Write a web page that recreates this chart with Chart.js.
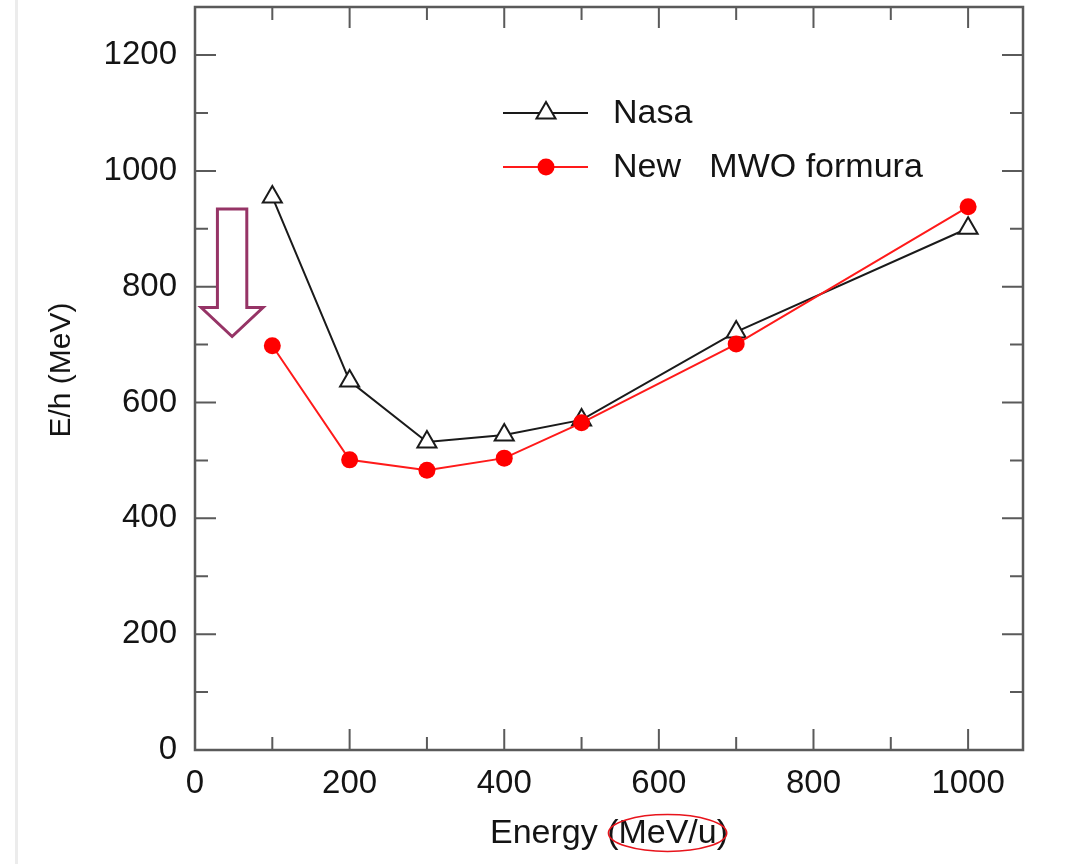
<!DOCTYPE html>
<html>
<head>
<meta charset="utf-8">
<script src="https://cdn.jsdelivr.net/npm/chart.js@4/dist/chart.umd.min.js"></script>
<style>
  html, body { margin: 0; padding: 0; background: #fff; }
  #wrap { width: 1072px; height: 864px; position: relative; }
</style>
</head>
<body>
<div id="wrap"><canvas id="c"></canvas></div>
<script>
// ---- data ----
const energies = [100, 200, 300, 400, 500, 700, 1000];
const nasaValues = [955, 637, 532, 544, 570, 722, 901];
const mwoValues = [698, 501, 483, 504, 565, 701, 938];
const xTickLabels = [0, 200, 400, 600, 800, 1000];
const yTickLabels = [0, 200, 400, 600, 800, 1000, 1200];
const xMinorTicks = [100, 300, 500, 700, 900];
const yMinorTicks = [100, 300, 500, 700, 900, 1100];
const seriesNames = ['Nasa', 'New   MWO formura'];
const yTitle = 'E/h (MeV)';

const FONT = '"Liberation Sans", Arial, Helvetica, sans-serif';
const frameColor = '#5a5a5a';
const zeroPad = () => ({ left: 0, top: 0, right: 0, bottom: 0 });

const decor = {
  id: 'decor',
  beforeDraw(chart) {
    const ctx = chart.ctx;
    ctx.save();
    ctx.fillStyle = '#ececec';
    ctx.fillRect(15, 0, 3, chart.height);
    ctx.restore();
  },
  afterDraw(chart) {
    const ctx = chart.ctx;
    const a = chart.chartArea;
    const xs = chart.scales.x, ys = chart.scales.y;
    ctx.save();
    // frame
    ctx.strokeStyle = frameColor;
    ctx.lineWidth = 2.5;
    ctx.strokeRect(a.left, a.top, a.right - a.left, a.bottom - a.top);
    // ticks inward
    ctx.lineWidth = 2;
    const major = 21, minor = 13;
    function xt(v, len) {
      const px = xs.getPixelForValue(v);
      ctx.beginPath();
      ctx.moveTo(px, a.bottom); ctx.lineTo(px, a.bottom - len);
      ctx.moveTo(px, a.top); ctx.lineTo(px, a.top + len);
      ctx.stroke();
    }
    function yt(v, len) {
      const py = ys.getPixelForValue(v);
      ctx.beginPath();
      ctx.moveTo(a.left, py); ctx.lineTo(a.left + len, py);
      ctx.moveTo(a.right, py); ctx.lineTo(a.right - len, py);
      ctx.stroke();
    }
    xTickLabels.forEach(v => xt(v, major));
    xMinorTicks.forEach(v => xt(v, minor));
    yTickLabels.forEach(v => yt(v, major));
    yMinorTicks.forEach(v => yt(v, minor));

    // y title
    ctx.save();
    ctx.translate(62, 370);
    ctx.rotate(-Math.PI / 2);
    ctx.font = '30px ' + FONT;
    ctx.fillStyle = '#141414';
    ctx.textAlign = 'center';
    ctx.textBaseline = 'middle';
    ctx.fillText(yTitle, 0, 0);
    ctx.restore();

    // legend
    const ds = chart.data.datasets;
    const rows = [113, 167];
    ctx.font = '34px ' + FONT;
    ctx.textBaseline = 'middle';
    ctx.textAlign = 'left';
    ds.forEach((d, i) => {
      const y = rows[i];
      ctx.strokeStyle = d.borderColor;
      ctx.lineWidth = d.borderWidth;
      ctx.beginPath(); ctx.moveTo(503, y); ctx.lineTo(588, y); ctx.stroke();
      ctx.fillStyle = d.pointBackgroundColor;
      ctx.strokeStyle = d.pointBorderColor;
      ctx.lineWidth = d.pointBorderWidth;
      ctx.beginPath();
      if (d.pointStyle === 'triangle') {
        const r = d.pointRadius;
        ctx.moveTo(546, y - r);
        ctx.lineTo(546 + r * Math.sin(2 * Math.PI / 3), y + r / 2);
        ctx.lineTo(546 - r * Math.sin(2 * Math.PI / 3), y + r / 2);
        ctx.closePath();
        ctx.fill(); ctx.stroke();
      } else {
        ctx.arc(546, y, d.pointRadius, 0, Math.PI * 2);
        ctx.fill();
      }
      ctx.fillStyle = '#141414';
      ctx.fillText(seriesNames[i], 613, y + 1);
    });

    // purple arrow annotation (in data coordinates)
    const X = v => xs.getPixelForValue(v), Y = v => ys.getPixelForValue(v);
    ctx.strokeStyle = '#963466';
    ctx.lineWidth = 3;
    ctx.lineJoin = 'miter';
    ctx.beginPath();
    ctx.moveTo(X(29), Y(934));
    ctx.lineTo(X(67), Y(934));
    ctx.lineTo(X(67), Y(764));
    ctx.lineTo(X(88), Y(764));
    ctx.lineTo(X(48), Y(714));
    ctx.lineTo(X(8), Y(764));
    ctx.lineTo(X(29), Y(764));
    ctx.closePath();
    ctx.stroke();

    // red ellipse around "MeV/u" in the x title
    ctx.font = '34px ' + FONT;
    const full = 'Energy (MeV/u)';
    const wFull = ctx.measureText(full).width;
    const wPre = ctx.measureText('Energy (').width;
    const wMid = ctx.measureText('MeV/u').width;
    const cx = (a.left + a.right) / 2 - wFull / 2 + wPre + wMid / 2;
    ctx.strokeStyle = '#e8141c';
    ctx.lineWidth = 1.6;
    ctx.beginPath();
    ctx.ellipse(cx, 833, wMid / 2 + 10, 18.5, 0, 0, Math.PI * 2);
    ctx.stroke();
    ctx.restore();
  }
};

new Chart(document.getElementById('c'), {
  type: 'line',
  data: {
    datasets: [
      {
        label: seriesNames[0],
        data: energies.map((e, i) => ({ x: e, y: nasaValues[i] })),
        borderColor: '#1a1a1a',
        borderWidth: 2,
        pointStyle: 'triangle',
        pointRadius: 11,
        pointBorderWidth: 2,
        pointBackgroundColor: '#ffffff',
        pointBorderColor: '#1a1a1a',
        tension: 0,
        clip: false,
        order: 2
      },
      {
        label: seriesNames[1],
        data: energies.map((e, i) => ({ x: e, y: mwoValues[i] })),
        borderColor: '#ff1a1a',
        borderWidth: 2,
        pointStyle: 'circle',
        pointRadius: 8.5,
        pointBorderWidth: 0,
        pointBackgroundColor: '#ff0000',
        pointBorderColor: '#ff0000',
        tension: 0,
        clip: false,
        order: 1
      }
    ]
  },
  options: {
    responsive: true,
    maintainAspectRatio: false,
    animation: false,
    events: [],
    layout: { autoPadding: false, padding: { top: 7, right: 49, bottom: 0, left: 0 } },
    plugins: { legend: { display: false }, tooltip: { enabled: false } },
    scales: {
      x: {
        type: 'linear',
        min: 0, max: 1071,
        afterBuildTicks: s => { s.ticks = xTickLabels.map(v => ({ value: v })); },
        afterFit: s => { s.height = 114; s.paddingLeft = 0; s.paddingRight = 0; s.getPadding = zeroPad; },
        grid: { display: false, drawTicks: false },
        border: { display: false },
        ticks: { color: '#141414', font: { family: FONT, size: 33 }, padding: 14, maxRotation: 0, autoSkip: false, callback: v => String(v) },
        title: { display: true, text: 'Energy (MeV/u)', color: '#141414', font: { family: FONT, size: 34 }, padding: { top: 10, bottom: 10 } }
      },
      y: {
        type: 'linear',
        min: 0, max: 1283,
        afterBuildTicks: s => { s.ticks = yTickLabels.map(v => ({ value: v })); },
        afterFit: s => { s.width = 195; s.paddingTop = 0; s.paddingBottom = 0; s.getPadding = zeroPad; },
        grid: { display: false, drawTicks: false },
        border: { display: false },
        ticks: { color: '#141414', font: { family: FONT, size: 33 }, padding: 18, autoSkip: false, callback: v => String(v) },
        title: { display: false }
      }
    }
  },
  plugins: [decor]
});
</script>
</body>
</html>
